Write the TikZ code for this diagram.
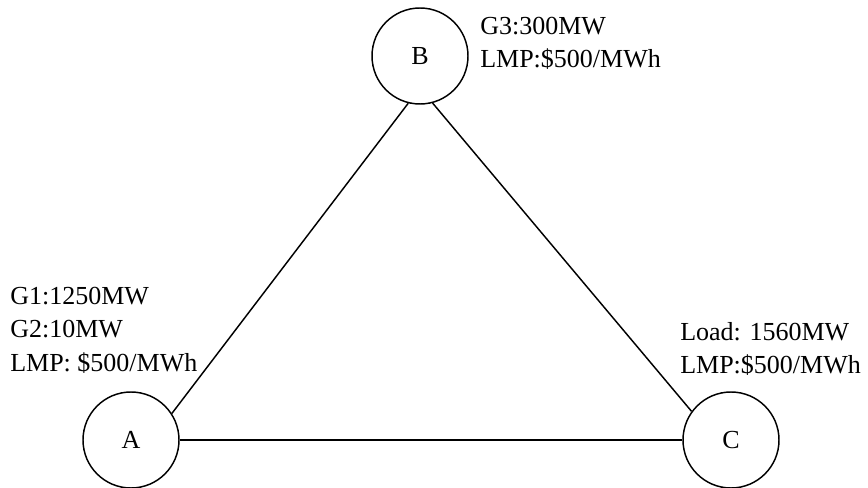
\documentclass[tikz,border=0pt]{standalone}
\usepackage{fontspec}
\setmainfont{Liberation Serif}
\begin{document}
\begin{tikzpicture}[x=0.75pt, y=-0.75pt,
  bus/.style={draw, circle, line width=1.1pt, minimum size=72pt, inner sep=0pt,
    font=\fontsize{19.5}{25}\selectfont},
  info/.style={anchor=north west, align=left, inner sep=0pt,
    font=\fontsize{19.5}{25}\selectfont},
  tie/.style={line width=1.1pt},
]
\useasboundingbox (0,0) rectangle (868,488);

% buses
\node[bus] (A) at (131,440) {A};
\node[bus] (B) at (420,56) {B};
\node[bus] (C) at (731,440) {C};

% lines between buses
\draw[tie] (A.33) -- (B.256);
\draw[tie] (B.285) -- (C.144);
\draw[tie] (A) -- (C);

% generation, load and prices
\node[info] (infoB) at (480,17) {G3:300MW\\LMP:\$500/MWh};
\node[info] (infoA) at (10,287) {G1:1250MW\\G2:10MW\\LMP: \$500/MWh};
\node[info] (infoC) at (680,322) {Load: 1560MW\\LMP:\$500/MWh};
\end{tikzpicture}
\end{document}
